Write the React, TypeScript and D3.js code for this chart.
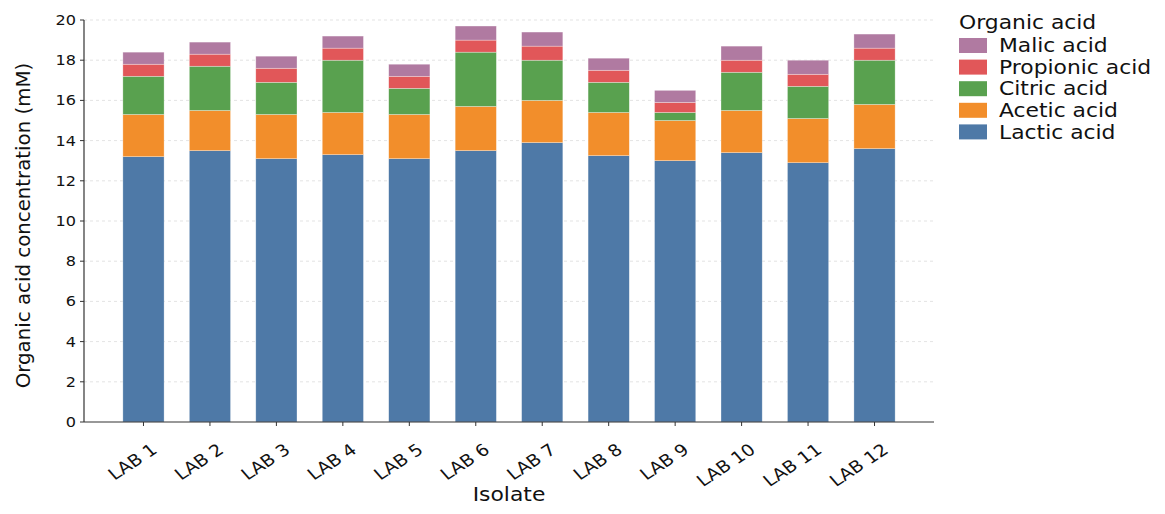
import * as d3 from "d3";

const isolates = ["LAB 1", "LAB 2", "LAB 3", "LAB 4", "LAB 5", "LAB 6", "LAB 7", "LAB 8", "LAB 9", "LAB 10", "LAB 11", "LAB 12"];

// organic acid concentrations (mM), stacked bottom to top
const lactic = [13.2, 13.5, 13.1, 13.3, 13.1, 13.5, 13.9, 13.25, 13.0, 13.4, 12.9, 13.6];
const acetic = [2.1, 2.0, 2.2, 2.1, 2.2, 2.2, 2.1, 2.15, 2.0, 2.1, 2.2, 2.2];
const citric = [1.9, 2.2, 1.6, 2.6, 1.3, 2.7, 2.0, 1.5, 0.4, 1.9, 1.6, 2.2];
const propionic = [0.6, 0.6, 0.7, 0.6, 0.6, 0.6, 0.7, 0.6, 0.5, 0.6, 0.6, 0.6];
const malic = [0.6, 0.6, 0.6, 0.6, 0.6, 0.7, 0.7, 0.6, 0.6, 0.7, 0.7, 0.7];

const acids = ["Lactic acid", "Acetic acid", "Citric acid", "Propionic acid", "Malic acid"];
const acidValues = [lactic, acetic, citric, propionic, malic];
const colors = ["#4e79a7", "#f28e2b", "#59a14f", "#e15759", "#b07aa1"];
const yTicks = [0, 2, 4, 6, 8, 10, 12, 14, 16, 18, 20];

const W = 1165;
const H = 514;
const left = 84;
const right = 934;
const top = 20;
const bottom = 422;
const font = "DejaVu Sans, Verdana, sans-serif";
// horizontal text in the source is a bit wider than DejaVu
const sx = 1.15;

export default function App() {
  const rows = isolates.map((name, i) => {
    const r: Record<string, number | string> = { name };
    acids.forEach((a, k) => (r[a] = acidValues[k][i]));
    return r;
  });
  const stack = d3.stack<Record<string, number | string>>().keys(acids)(rows as any);

  const x = d3.scaleBand().domain(isolates).range([left, right]).paddingInner(0.38).paddingOuter(0.585);
  const y = d3.scaleLinear().domain([0, 20]).range([bottom, top]);

  return (
    <svg width={W} height={H} style={{ position: "absolute", left: 0, top: 0, fontFamily: font }}>
      <rect width={W} height={H} fill="#fff" />
      {/* grid */}
      {yTicks.filter((t) => t > 0).map((t) => (
        <line key={t} x1={left} x2={right} y1={y(t)} y2={y(t)} stroke="#dcdcdc" strokeWidth={0.8} strokeDasharray="3,3" />
      ))}
      {/* bars */}
      {stack.map((layer, k) => (
        <g key={acids[k]} fill={colors[k]}>
          {layer.map((d, i) => (
            <rect
              key={i}
              x={x(isolates[i])}
              width={x.bandwidth()}
              y={y(d[1])}
              height={y(d[0]) - y(d[1])}
              stroke="#ffffff"
              strokeOpacity={0.5}
              strokeWidth={0.6}
            />
          ))}
        </g>
      ))}
      {/* axes */}
      <line x1={left} x2={left} y1={top} y2={bottom} stroke="#333" strokeWidth={1.2} />
      <line x1={left} x2={right} y1={bottom} y2={bottom} stroke="#333" strokeWidth={1.2} />
      {yTicks.map((t) => (
        <g key={t}>
          <line x1={left - 4} x2={left} y1={y(t)} y2={y(t)} stroke="#333" />
          <text
            transform={`translate(${left - 8},${y(t)}) scale(${sx},1)`}
            dy="0.35em"
            textAnchor="end"
            fontSize={14}
            fill="#111"
          >
            {t}
          </text>
        </g>
      ))}
      {isolates.map((name) => {
        const cx = (x(name) ?? 0) + x.bandwidth() / 2;
        return (
          <g key={name}>
            <line x1={cx} x2={cx} y1={bottom} y2={bottom + 4} stroke="#333" />
            <text
              transform={`translate(${cx + 15},${bottom + 30}) scale(${sx},1) rotate(-37)`}
              textAnchor="end"
              fontSize={16.5}
              fill="#111"
            >
              {name}
            </text>
          </g>
        );
      })}
      <text transform={`translate(509,501) scale(${sx},1)`} textAnchor="middle" fontSize={19} fill="#111">
        Isolate
      </text>
      <text transform="translate(30,225.5) rotate(-90)" textAnchor="middle" fontSize={19.8} fill="#111">
        Organic acid concentration (mM)
      </text>
      {/* legend */}
      <text transform={`translate(959,29) scale(${sx},1)`} fontSize={19} fill="#111">
        Organic acid
      </text>
      {acids
        .slice()
        .reverse()
        .map((a, j) => {
          const k = acids.length - 1 - j;
          const yy = 38 + j * 21.6;
          return (
            <g key={a}>
              <rect x={959} y={yy} width={28} height={15} fill={colors[k]} />
              <text
                transform={`translate(999,${yy + 7.5}) scale(${sx},1)`}
                dy="0.35em"
                fontSize={19}
                fill="#111"
              >
                {a}
              </text>
            </g>
          );
        })}
    </svg>
  );
}
